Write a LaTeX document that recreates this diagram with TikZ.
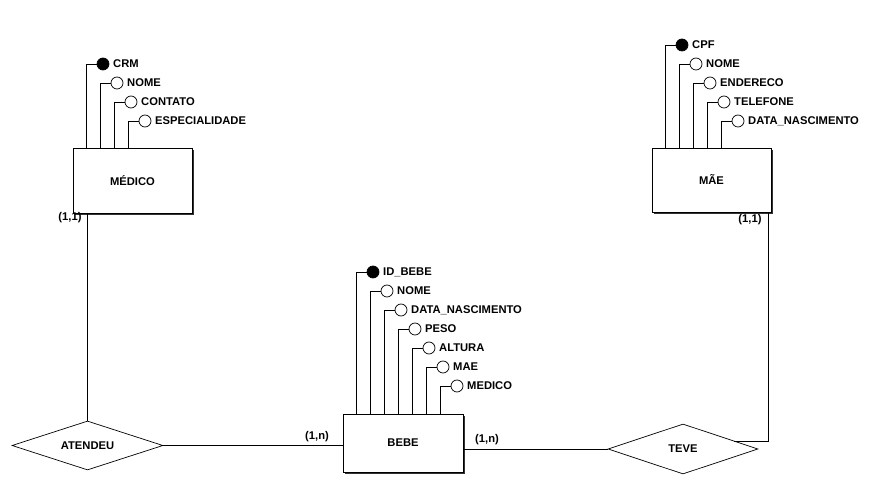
\documentclass[tikz,border=0pt]{standalone}
\usepackage{fontspec}
\setmainfont{Liberation Sans}
\usetikzlibrary{positioning,calc,shapes.geometric,shadows}

\tikzset{
	entity/.style={draw,fill=white,inner sep=0pt,
		drop shadow={shadow xshift=2pt,shadow yshift=-2pt,fill=black!80,opacity=1}},
	relation/.style={draw,diamond,aspect=3,inner sep=0pt,fill=white},
	attr/.style={draw,circle,minimum size=12pt,inner sep=0pt,fill=white},
	key/.style={attr,fill=black},
	lbl/.style={inner sep=2pt},
	card/.style={inner sep=0pt},
}

\begin{document}
\begin{tikzpicture}[x=1pt,y=-1pt,font=\fontsize{11.2}{13}\selectfont\bfseries,label distance=1.5pt,line width=0.7pt]
		\useasboundingbox[fill=white] (0,0) rectangle (871,478);
		
		% entidades
		\node[entity,minimum width=119pt,minimum height=65pt] (medico) at (132.5,180.5) {MÉDICO};
		\node[entity,minimum width=119pt,minimum height=64pt] (mae) at (711.5,180) {MÃE};
		\node[entity,minimum width=120pt,minimum height=58pt] (bebe) at (403,443) {BEBE};
		
		% relacionamentos
		\node[relation,minimum width=151pt,minimum height=49pt] (atendeu) at (87.5,445.5) {ATENDEU};
		\node[relation,minimum width=150pt,minimum height=50pt] (teve) at (683,449) {TEVE};
		
		% atributos do medico
		\node[key,label={[lbl]right:CRM}] (crm) at (103,64) {};
		\node[attr,label={[lbl]right:NOME}] (nomemed) at (117,83) {};
		\node[attr,label={[lbl]right:CONTATO}] (contato) at (131,102) {};
		\node[attr,label={[lbl]right:ESPECIALIDADE}] (espec) at (145,121) {};
		\draw (crm.west) -| ([xshift=14pt]medico.north west);
		\draw (nomemed.west) -| ([xshift=28pt]medico.north west);
		\draw (contato.west) -| ([xshift=42pt]medico.north west);
		\draw (espec.west) -| ([xshift=56pt]medico.north west);
		
		% atributos da mae
		\node[key,label={[lbl]right:CPF}] (cpf) at (682,45) {};
		\node[attr,label={[lbl]right:NOME}] (nomemae) at (696,64) {};
		\node[attr,label={[lbl]right:ENDERECO}] (endereco) at (710,83) {};
		\node[attr,label={[lbl]right:TELEFONE}] (telefone) at (724,102) {};
		\node[attr,label={[lbl]right:DATA\_NASCIMENTO}] (nascmae) at (738,121) {};
		\draw (cpf.west) -| ([xshift=14pt]mae.north west);
		\draw (nomemae.west) -| ([xshift=28pt]mae.north west);
		\draw (endereco.west) -| ([xshift=42pt]mae.north west);
		\draw (telefone.west) -| ([xshift=56pt]mae.north west);
		\draw (nascmae.west) -| ([xshift=70pt]mae.north west);
		
		% atributos do bebe
		\node[key,label={[lbl]right:ID\_BEBE}] (idbebe) at (373,272) {};
		\node[attr,label={[lbl]right:NOME}] (nomebebe) at (387,291) {};
		\node[attr,label={[lbl]right:DATA\_NASCIMENTO}] (nascbebe) at (401,310) {};
		\node[attr,label={[lbl]right:PESO}] (peso) at (415,329) {};
		\node[attr,label={[lbl]right:ALTURA}] (altura) at (429,348) {};
		\node[attr,label={[lbl]right:MAE}] (maebebe) at (443,367) {};
		\node[attr,label={[lbl]right:MEDICO}] (medbebe) at (457,386) {};
		\draw (idbebe.west) -| ([xshift=14pt]bebe.north west);
		\draw (nomebebe.west) -| ([xshift=28pt]bebe.north west);
		\draw (nascbebe.west) -| ([xshift=42pt]bebe.north west);
		\draw (peso.west) -| ([xshift=56pt]bebe.north west);
		\draw (altura.west) -| ([xshift=70pt]bebe.north west);
		\draw (maebebe.west) -| ([xshift=84pt]bebe.north west);
		\draw (medbebe.west) -| ([xshift=98pt]bebe.north west);
		
		% ligacoes
		\draw (atendeu.north) -- (atendeu.north |- medico.south);
		\draw (atendeu.east) -- (atendeu.east -| bebe.west);
		\draw (teve.west) -- (teve.west -| bebe.east);
		\draw ([xshift=-3pt]mae.south east) |- (teve.9);
		
		% cardinalidades
		\node[card] (c1) at (70,218) {(1,1)};
		\node[card] (c2) at (750,220) {(1,1)};
		\node[card] (c3) at (317,437) {(1,n)};
		\node[card] (c4) at (487,440) {(1,n)};
	\end{tikzpicture}
\end{document}
